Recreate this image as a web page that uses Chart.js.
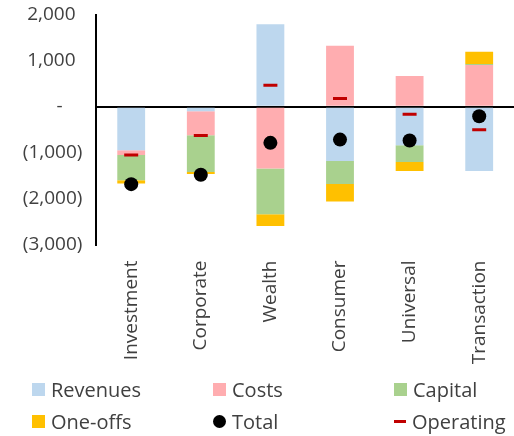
<!DOCTYPE html>
<html>
<head>
<meta charset="utf-8">
<script src="https://cdn.jsdelivr.net/npm/chart.js@4.4.1/dist/chart.umd.min.js"></script>
<style>
  html, body { margin: 0; padding: 0; background: #fff; overflow: hidden; }
  #wrap { position: relative; width: 524px; height: 436px; }
  #legend {
    position: absolute; left: 32px; top: 373px;
    display: grid; grid-template-columns: 181px 181px 140px; grid-auto-rows: 32px;
    font-family: "Open Sans", sans-serif; font-size: 20px; color: #404040;
  }
  .item { display: flex; align-items: center; white-space: nowrap; }
  .mark { display: inline-block; margin-right: 6px; }
</style>
</head>
<body>
<div id="wrap">
  <canvas id="chart" width="524" height="436"></canvas>
  <div id="legend"></div>
</div>
<script>
// Data
const categories = ['Investment', 'Corporate', 'Wealth', 'Consumer', 'Universal', 'Transaction'];
const revenues = [-945, -95, 1800, -1180, -835, -1400];
const costs = [-105, -525, -1345, 1330, 670, 910];
const capital = [-550, -800, -995, -500, -370, 20];
const oneOffs = [-70, -45, -255, -385, -195, 270];
const total = [-1685, -1480, -785, -715, -735, -205];
const operating = [-1050, -625, 470, 180, -160, -500];
const yTicks = [2000, 1000, 0, -1000, -2000, -3000];

const FONT = '"Open Sans", sans-serif';
const TEXT = '#404040';

function fmt(v) {
  if (v === 0) return '-    ';
  if (v < 0) return '(' + Math.abs(v).toLocaleString('en-US') + ')';
  return v.toLocaleString('en-US') + ' \u200A';
}

const bar = (label, data, color) => ({
  type: 'bar', label, data, backgroundColor: color, stack: 'main',
  barPercentage: 0.4, categoryPercentage: 1.0
});

const ctx = document.getElementById('chart').getContext('2d');
const chart = new Chart(ctx, {
  data: {
    labels: categories,
    datasets: [
      bar('Revenues', revenues, '#BDD7EE'),
      bar('Costs', costs, '#FFADB0'),
      bar('Capital', capital, '#A9D18E'),
      bar('One-offs', oneOffs, '#FFC000'),
      {
        type: 'line', label: 'Total', data: total, stack: 'total', order: -1,
        showLine: false, pointStyle: 'circle', pointRadius: 7,
        pointBackgroundColor: '#000', pointBorderWidth: 0
      },
      {
        type: 'line', label: 'Operating', data: operating, stack: 'op', order: -1,
        showLine: false, pointStyle: 'line', pointRadius: 7,
        pointBorderColor: '#C00000', pointBorderWidth: 3
      }
    ]
  },
  options: {
    responsive: false,
    animation: false,
    layout: { padding: { top: 15, left: 0, right: 0, bottom: 0 } },
    plugins: {
      legend: { display: false },
      tooltip: { enabled: false }
    },
    scales: {
      x: {
        stacked: true,
        grid: { display: false, drawTicks: false },
        border: { display: false },
        ticks: {
          color: TEXT, font: { family: FONT, size: 19 },
          minRotation: 90, maxRotation: 90, padding: 16
        },
        afterFit(scale) {
          scale.height = 191.5;
          scale.paddingLeft = 0;
          scale.paddingRight = 0;
        }
      },
      y: {
        stacked: true,
        min: -3000, max: 2000,
        afterBuildTicks(scale) { scale.ticks = yTicks.map(v => ({ value: v })); },
        grid: {
          drawTicks: false,
          lineWidth: 2,
          color: c => (c.tick && c.tick.value === 0 ? '#000' : 'rgba(0,0,0,0)')
        },
        border: { color: '#000', width: 2 },
        ticks: {
          color: TEXT, font: { family: FONT, size: 19 }, padding: 14,
          callback: v => fmt(v)
        },
        afterFit(scale) {
          scale.width = 96.4;
          scale.paddingTop = 0;
          scale.paddingBottom = 0;
        }
      }
    }
  }
});

// Legend laid out in three fixed columns like the original
const legendOrder = ['Revenues', 'Costs', 'Capital', 'One-offs', 'Total', 'Operating'];
const legendEl = document.getElementById('legend');
legendOrder.forEach(name => {
  const ds = chart.data.datasets.find(d => d.label === name);
  const item = document.createElement('div');
  item.className = 'item';
  const mark = document.createElement('span');
  mark.className = 'mark';
  if (name === 'Total') {
    Object.assign(mark.style, { width: '13px', height: '13px', borderRadius: '50%', background: ds.pointBackgroundColor });
  } else if (name === 'Operating') {
    Object.assign(mark.style, { width: '12px', height: '3px', background: ds.pointBorderColor });
  } else {
    Object.assign(mark.style, { width: '13px', height: '13px', background: ds.backgroundColor });
  }
  item.appendChild(mark);
  item.appendChild(document.createTextNode(name));
  legendEl.appendChild(item);
});
</script>
</body>
</html>
